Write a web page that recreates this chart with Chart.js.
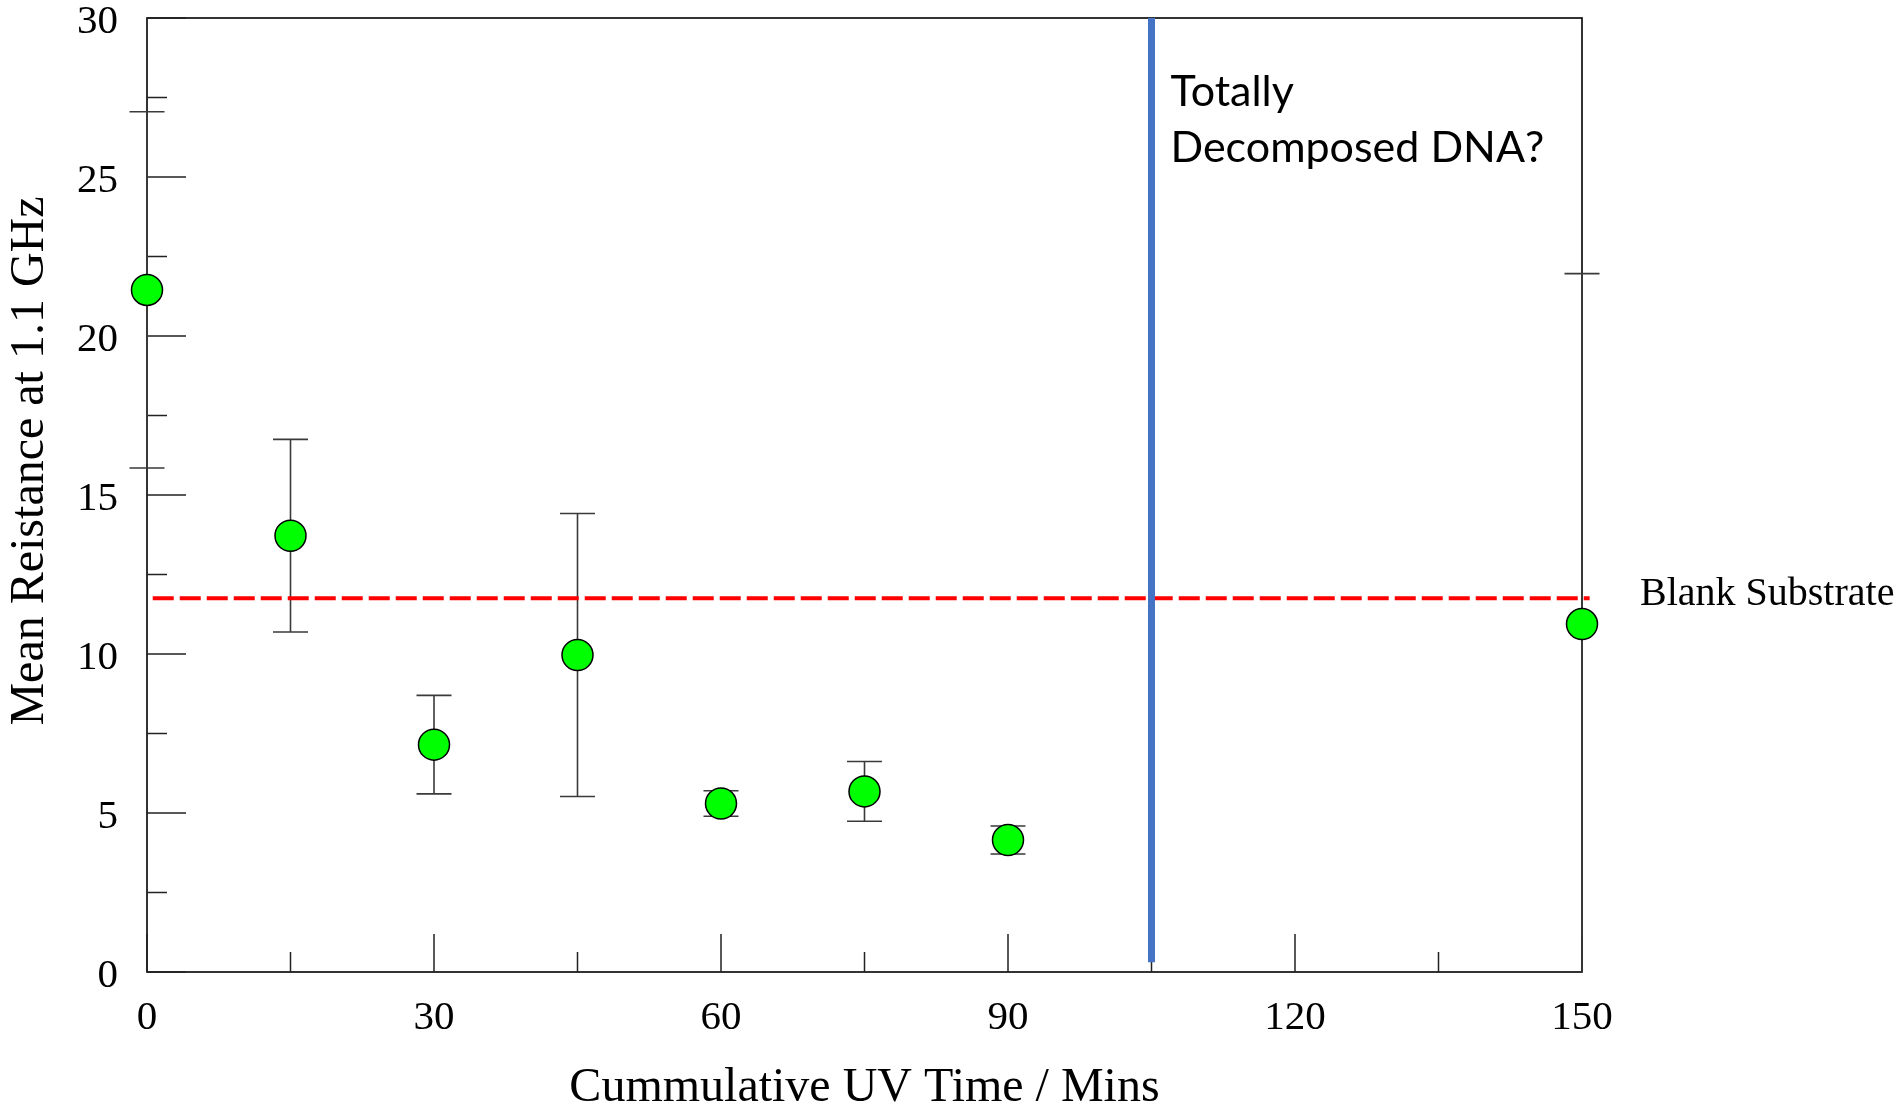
<!DOCTYPE html>
<html>
<head>
<meta charset="utf-8">
<script src="https://cdn.jsdelivr.net/npm/chart.js@4/dist/chart.umd.min.js"></script>
<style>
  html, body { margin: 0; padding: 0; background: #fff; }
  #wrap { width: 1901px; height: 1110px; }
</style>
</head>
<body>
<div id="wrap"><canvas id="chart" width="1901" height="1110"></canvas></div>
<script>
// Measured data: cumulative UV exposure vs. mean resistance at 1.1 GHz
const uvMinutes      = [0, 15, 30, 45, 60, 75, 90, 150];
const meanResistance = [21.45, 13.72, 7.15, 9.97, 5.30, 5.68, 4.15, 10.94];
const errorHalf      = [5.60, 3.03, 1.55, 4.45, 0.40, 0.94, 0.44, 11.02];

// Reference levels
const blankSubstrate = 11.75;     // resistance of the bare substrate
const decomposedAt   = 105;       // minutes, onset of full decomposition
const blankSpan      = [0.6, 150.8];
const decomposedSpan = [0.31, 30];

// Axis ticks
const xMajorTicks = [0, 30, 60, 90, 120, 150];
const xMinorTicks = [15, 45, 75, 105, 135];
const yMajorTicks = [0, 5, 10, 15, 20, 25, 30];
const yMinorTicks = [2.5, 7.5, 12.5, 17.5, 22.5, 27.5];

const SERIF = "'Liberation Serif', 'Times New Roman', serif";
Chart.defaults.font.family = SERIF;
Chart.defaults.color = '#000';

const frameAndBars = {
  id: 'frameAndBars',
  beforeDatasetsDraw(chart) {
    const { ctx, chartArea: a, scales: { x, y } } = chart;
    ctx.save();
    // plot frame
    ctx.strokeStyle = '#000';
    ctx.lineWidth = 1.6;
    ctx.strokeRect(a.left, a.top, a.right - a.left, a.bottom - a.top);

    // inward tick marks
    ctx.strokeStyle = '#222';
    ctx.lineWidth = 1.5;
    ctx.beginPath();
    yMajorTicks.forEach(v => { const p = y.getPixelForValue(v); ctx.moveTo(a.left, p); ctx.lineTo(a.left + 39, p); });
    yMinorTicks.forEach(v => { const p = y.getPixelForValue(v); ctx.moveTo(a.left, p); ctx.lineTo(a.left + 20, p); });
    xMajorTicks.forEach(v => { const p = x.getPixelForValue(v); ctx.moveTo(p, a.bottom); ctx.lineTo(p, a.bottom - 38); });
    xMinorTicks.forEach(v => { const p = x.getPixelForValue(v); ctx.moveTo(p, a.bottom); ctx.lineTo(p, a.bottom - 20); });
    ctx.stroke();

    // error bars (kept inside the plot vertically)
    ctx.beginPath();
    ctx.rect(a.left - 60, a.top - 1, a.right - a.left + 120, a.bottom - a.top + 1);
    ctx.clip();
    ctx.strokeStyle = '#3a3a3a';
    ctx.lineWidth = 1.6;
    ctx.beginPath();
    uvMinutes.forEach((m, i) => {
      const px = x.getPixelForValue(m);
      const hi = y.getPixelForValue(meanResistance[i] + errorHalf[i]);
      const lo = y.getPixelForValue(meanResistance[i] - errorHalf[i]);
      ctx.moveTo(px, hi); ctx.lineTo(px, lo);
      ctx.moveTo(px - 17.5, hi); ctx.lineTo(px + 17.5, hi);
      ctx.moveTo(px - 17.5, lo); ctx.lineTo(px + 17.5, lo);
    });
    ctx.stroke();
    ctx.restore();
  },
  afterDraw(chart) {
    const { ctx, chartArea: a, scales: { x, y } } = chart;
    ctx.save();
    ctx.fillStyle = '#000';

    // axis titles
    ctx.font = '48px ' + SERIF;
    ctx.textAlign = 'center';
    ctx.textBaseline = 'middle';
    ctx.fillText('Cummulative UV Time / Mins', (a.left + a.right) / 2, 1088);
    ctx.save();
    ctx.translate(30, 461);
    ctx.rotate(-Math.PI / 2);
    ctx.fillText('Mean Reistance at 1.1 GHz', 0, 0);
    ctx.restore();

    // reference-line label
    ctx.font = '40px ' + SERIF;
    ctx.textAlign = 'left';
    ctx.textBaseline = 'alphabetic';
    ctx.fillText('Blank Substrate', a.right + 58, y.getPixelForValue(blankSubstrate) + 7);

    // decomposition note
    ctx.font = "43px Lato, 'Open Sans', sans-serif";
    const nx = x.getPixelForValue(decomposedAt) + 19;
    ctx.fillText('Totally', nx, 106);
    ctx.fillText('Decomposed DNA?', nx, 162);
    ctx.restore();
  }
};

new Chart(document.getElementById('chart'), {
  type: 'scatter',
  data: {
    datasets: [
      {
        label: 'Decomposed',
        data: decomposedSpan.map(v => ({ x: decomposedAt, y: v })),
        showLine: true,
        borderColor: '#4472C4',
        borderWidth: 7,
        pointRadius: 0,
        clip: false
      },
      {
        label: 'Blank Substrate',
        data: blankSpan.map(v => ({ x: v, y: blankSubstrate })),
        showLine: true,
        borderColor: '#FF0000',
        borderWidth: 4,
        borderDash: [21, 6],
        pointRadius: 0,
        clip: false
      },
      {
        label: 'Mean resistance',
        data: uvMinutes.map((m, i) => ({ x: m, y: meanResistance[i] })),
        pointRadius: 15.5,
        pointBackgroundColor: '#00FF00',
        pointBorderColor: '#000',
        pointBorderWidth: 1.5,
        clip: false
      }
    ]
  },
  options: {
    responsive: false,
    animation: false,
    layout: { padding: { left: 0, top: 18, right: 319, bottom: 0 } },
    plugins: { legend: { display: false }, tooltip: { enabled: false } },
    scales: {
      x: {
        type: 'linear',
        min: 0, max: 150,
        afterBuildTicks: s => { s.ticks = xMajorTicks.map(v => ({ value: v })); },
        afterFit: s => { s.height = 138; s.paddingLeft = 0; s.paddingRight = 0; },
        grid: { display: false, drawTicks: false },
        border: { display: false },
        ticks: { font: { size: 41 }, padding: 22, color: '#000', maxRotation: 0 }
      },
      y: {
        type: 'linear',
        min: 0, max: 30,
        afterBuildTicks: s => { s.ticks = yMajorTicks.map(v => ({ value: v })); },
        afterFit: s => { s.width = 147; s.paddingTop = 0; s.paddingBottom = 0; },
        grid: { display: false, drawTicks: false },
        border: { display: false },
        ticks: { font: { size: 41 }, padding: 29, labelOffset: 4, color: '#000' }
      }
    }
  },
  plugins: [frameAndBars]
});
</script>
</body>
</html>
